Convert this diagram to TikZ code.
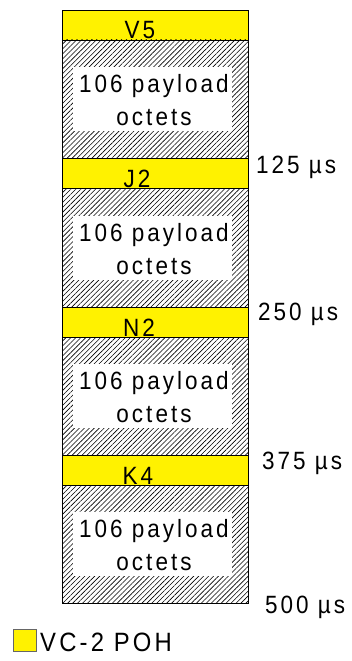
\documentclass[tikz,border=0pt]{standalone}
\usepackage{fontspec}
\setmainfont{Liberation Sans}[LetterSpace=12, FakeStretch=0.9]
\usetikzlibrary{patterns.meta}
\begin{document}
\begin{tikzpicture}[x=1pt,y=-1pt,
  band/.style={draw=black, line width=0.9pt, fill=yellow, minimum width=186pt, minimum height=30pt, anchor=north west, inner sep=0pt, outer sep=0pt},
  hatchbox/.style={draw=black, line width=0.9pt, pattern={Lines[angle=45,distance=3.5pt,line width=0.6pt]}, minimum width=186pt, anchor=north west, inner sep=0pt, outer sep=0pt},
  whitebox/.style={fill=white, minimum width=159pt, minimum height=64pt, inner sep=0pt},
  lbl/.style={font=\fontsize{25}{33}\selectfont, inner sep=0pt, anchor=base},
  txt/.style={font=\fontsize{25}{33}\selectfont, inner sep=0pt, align=center},
  tlbl/.style={font=\fontsize{25}{33}\selectfont, inner sep=0pt, anchor=base west}]
\useasboundingbox (0,0) rectangle (351,661);
% sections
\node[band] (b1) at (62,10) {};
\node[hatchbox, minimum height=118pt] (h1) at (62,40) {};
\node[band] (b2) at (62,158) {};
\node[hatchbox, minimum height=119pt] (h2) at (62,188) {};
\node[band] (b3) at (62,307) {};
\node[hatchbox, minimum height=118pt] (h3) at (62,337) {};
\node[band] (b4) at (62,455) {};
\node[hatchbox, minimum height=118pt] (h4) at (62,485) {};
% white boxes with text
\node[whitebox] (w1) at (152.5,99) {};
\node[whitebox] (w2) at (152.5,247.5) {};
\node[whitebox] (w3) at (152.5,396) {};
\node[whitebox] (w4) at (152.5,544) {};
\node[txt] (t1) at (154,100.5) {106 payload\\octets};
\node[txt] (t2) at (154,249) {106 payload\\octets};
\node[txt] (t3) at (154,397.5) {106 payload\\octets};
\node[txt] (t4) at (154,545.5) {106 payload\\octets};
% band labels
\node[lbl] (l1) at (140,39) {V5};
\node[lbl] (l2) at (137,187) {J2};
\node[lbl] (l3) at (139,336) {N2};
\node[lbl] (l4) at (138,484) {K4};
% time labels
\node[tlbl] (m1) at (256,173) {125 µs};
\node[tlbl] (m2) at (258,320) {250 µs};
\node[tlbl] (m3) at (262,469) {375 µs};
\node[tlbl] (m4) at (265,613) {500 µs};
% legend
\node[draw=black!60, line width=0.8pt, fill=yellow, minimum width=23pt, minimum height=22pt, inner sep=0pt, anchor=north west] (leg) at (13,629) {};
\node[font=\fontsize{26.5}{30}\selectfont, inner sep=0pt, anchor=base west] (legt) at (40,651) {VC-2 POH};
\end{tikzpicture}
\end{document}
